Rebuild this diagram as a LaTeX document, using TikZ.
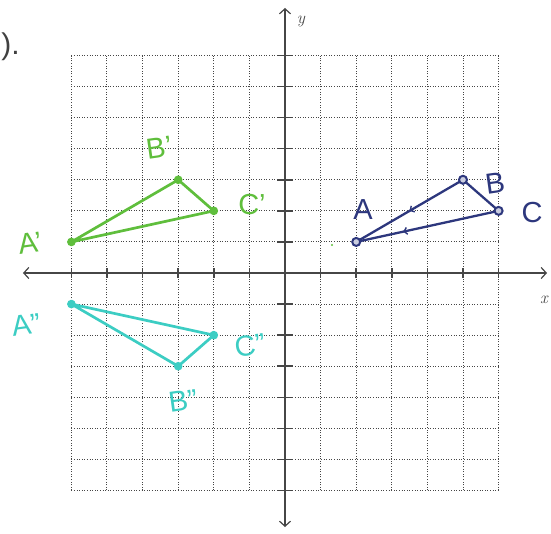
\documentclass[tikz,border=0pt]{standalone}
\usepackage{fontspec}
\setsansfont{Liberation Sans}
\usetikzlibrary{arrows.meta,decorations.markings}
\definecolor{gridc}{RGB}{70,70,70}
\definecolor{axisc}{RGB}{70,70,70}
\definecolor{grn}{RGB}{95,190,60}
\definecolor{cyn}{RGB}{60,205,195}
\definecolor{nvy}{RGB}{45,55,125}
\begin{document}
\begin{tikzpicture}[x=35.6pt,y=31.07pt,
  gridline/.style={draw=gridc, line width=1pt, dash pattern=on 1pt off 1.6pt},
  axisline/.style={draw=axisc, line width=1.2pt, {Straight Barb[length=5pt,width=11pt]}-{Straight Barb[length=5pt,width=11pt]}},
  tickmark/.style={draw=axisc, line width=1.5pt},
  tri/.style={line width=2.7pt, line join=round, line cap=round},
  hand/.style={font=\sffamily\fontsize{29}{29}\selectfont, inner sep=0pt},
  axlabel/.style={font=\itshape\fontsize{17}{17}\selectfont, text=axisc, inner sep=0pt},
  dotfill/.style={fill=#1, draw=#1, line width=1pt},
  ringdot/.style={draw=nvy, fill=nvy!25, line width=2pt},
  midtip/.style={postaction={decorate}, decoration={markings, mark=at position #1 with {\arrow{Straight Barb[length=3pt,width=7pt,line width=1.4pt]}}}}
]
\useasboundingbox (-285pt,-260pt) rectangle (266pt,273pt);

% grid
\foreach \i in {-6,...,6} \draw[gridline] (\i,-7) -- (\i,7);
\foreach \j in {-7,...,7} \draw[gridline] (-6,\j) -- (6,\j);

% axes
\coordinate (xl) at (-262pt,0pt);
\coordinate (xr) at (262pt,0pt);
\coordinate (yb) at (0pt,-254pt);
\coordinate (yt) at (0pt,265pt);
\draw[axisline] (xl) -- (xr);
\draw[axisline] (yb) -- (yt);
\foreach \i in {-6,...,6} \draw[tickmark] (\i,0) ++(0pt,-5pt) -- ++(0pt,10pt);
\foreach \j in {-7,...,7} \draw[tickmark] (0,\j) ++(-8pt,0pt) -- ++(16pt,0pt);
\node[axlabel] (ylab) at (16pt,252pt) {y};
\node[axlabel] (xlab) at (259pt,-27pt) {x};

% cropped text at top left
\node[font=\sffamily\fontsize{30}{30}\selectfont, text=black!75, inner sep=0pt, anchor=base east] (frag) at (-265pt,218pt) {).};

% green triangle A'B'C'
\coordinate (Ap) at (-6,1);
\coordinate (Bp) at (-3,3);
\coordinate (Cp) at (-2,2);
\draw[tri, grn] (Ap) -- (Bp) -- (Cp) -- cycle;
\foreach \p in {Ap,Bp,Cp} \fill[dotfill=grn] (\p) circle (3.8pt);
\node[hand, text=grn, rotate=8] (lAp) at (-255pt,30pt) {A'};
\node[hand, text=grn, rotate=8] (lBp) at (-126pt,125pt) {B'};
\node[hand, text=grn] (lCp) at (-33pt,68pt) {C'};
\fill[grn] (47pt,28pt) circle (1.2pt);

% cyan triangle A''B''C''
\coordinate (App) at (-6,-1);
\coordinate (Bpp) at (-3,-3);
\coordinate (Cpp) at (-2,-2);
\draw[tri, cyn] (App) -- (Bpp) -- (Cpp) -- cycle;
\foreach \p in {App,Bpp,Cpp} \fill[dotfill=cyn] (\p) circle (3.8pt);
\node[hand, text=cyn, rotate=8] (lApp) at (-259pt,-52pt) {A''};
\node[hand, text=cyn, rotate=8] (lBpp) at (-102pt,-128pt) {B''};
\node[hand, text=cyn, rotate=8] (lCpp) at (-35pt,-72pt) {C''};

% navy triangle ABC
\coordinate (A) at (2,1);
\coordinate (B) at (5,3);
\coordinate (C) at (6,2);
\draw[tri, nvy, line width=2.3pt, midtip=0.5] (B) -- (A);
\draw[tri, nvy, line width=2.3pt, midtip=0.67] (C) -- (A);
\draw[tri, nvy, line width=2.3pt] (B) -- (C);
\foreach \p in {A,B,C} \draw[ringdot] (\p) circle (4pt);
\node[hand, text=nvy] (lA) at (78pt,63pt) {A};
\node[hand, text=nvy, rotate=8] (lB) at (210pt,90pt) {B};
\node[hand, text=nvy] (lC) at (247pt,60pt) {C};
\end{tikzpicture}
\end{document}
